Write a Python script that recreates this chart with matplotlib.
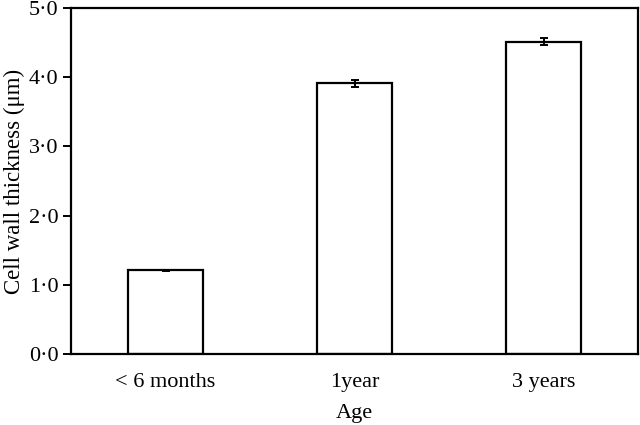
import matplotlib
matplotlib.use("Agg")
import matplotlib.pyplot as plt
import numpy as np

plt.rcParams['font.family'] = ['Liberation Serif', 'DejaVu Serif']

categories = ['< 6 months', '1year', '3 years']
thickness = [1.21, 3.91, 4.51]
errors = [0.01, 0.05, 0.05]
yticks = [0.0, 1.0, 2.0, 3.0, 4.0, 5.0]
ytick_labels = ['0·0', '1·0', '2·0', '3·0', '4·0', '5·0']

fig = plt.figure(figsize=(6.4, 4.25), dpi=100)
ax = fig.add_axes([71 / 640, 71 / 425, 567 / 640, 346 / 425])

x = np.arange(len(categories))
ax.bar(x, thickness, width=0.40, color='white', edgecolor='black', linewidth=1.6,
       yerr=errors, error_kw=dict(ecolor='black', elinewidth=1.4, capsize=3, capthick=1.4))

ax.set_xlim(-0.5, 2.5)
ax.set_ylim(0, 5.0)
ax.set_yticks(yticks)
ax.set_yticklabels(ytick_labels, fontsize=16)
ax.set_xticks(x)
ax.set_xticklabels(categories, fontsize=16)
ax.tick_params(axis='x', length=0, pad=14)
ax.tick_params(axis='y', direction='out', length=6, width=1.4, pad=3)

for s in ax.spines.values():
    s.set_linewidth(1.6)

ax.set_xlabel('Age', fontsize=16, labelpad=8)
ax.set_ylabel('Cell wall thickness (μm)', fontsize=16.5, labelpad=3)

fig.savefig('out.png', dpi=100)
